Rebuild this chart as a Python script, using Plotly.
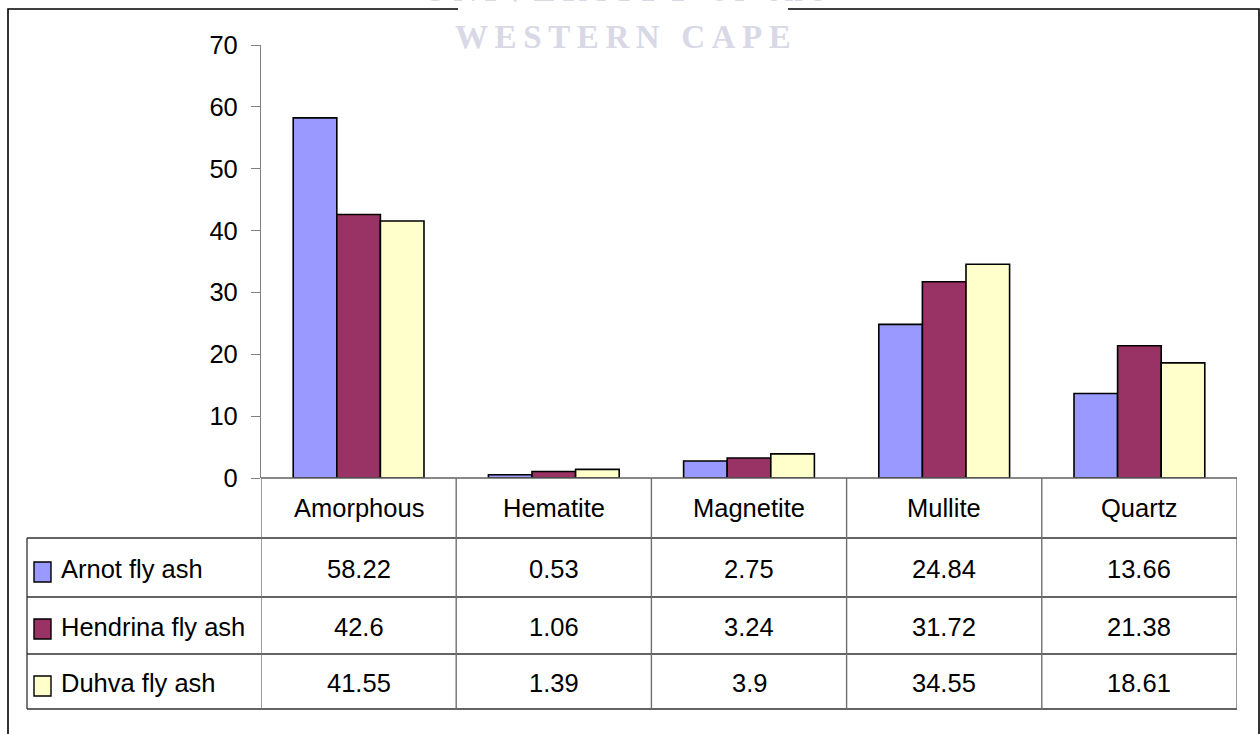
import plotly.graph_objects as go

categories = ["Amorphous", "Hematite", "Magnetite", "Mullite", "Quartz"]
series_names = ["Arnot fly ash", "Hendrina fly ash", "Duhva fly ash"]
arnot = [58.22, 0.53, 2.75, 24.84, 13.66]
hendrina = [42.6, 1.06, 3.24, 31.72, 21.38]
duhva = [41.55, 1.39, 3.9, 34.55, 18.61]
y_ticks = [0, 10, 20, 30, 40, 50, 60, 70]

series_values = [arnot, hendrina, duhva]
colors = ["#9999FF", "#993366", "#FFFFCC"]

W, H = 1260, 734
FONT = "Liberation Sans Narrow, Arial Narrow, Liberation Sans, Arial, sans-serif"
FS = 25.5


def px(x):
    return x / W


def py(y):
    return 1 - y / H


fig = go.Figure()
for name, vals, col in zip(series_names, series_values, colors):
    fig.add_trace(go.Bar(x=categories, y=vals, name=name,
                         marker=dict(color=col, line=dict(color="black", width=1.6)),
                         showlegend=False))

fig.update_layout(
    width=W, height=H, margin=dict(l=0, r=0, t=0, b=0, autoexpand=False),
    paper_bgcolor="white", plot_bgcolor="white",
    barmode="group", bargap=0.33, bargroupgap=0,
    font=dict(family=FONT, size=FS, color="black"),
    xaxis=dict(domain=[px(261), px(1237)], showticklabels=False, ticks="",
               showgrid=False, zeroline=False, showline=False, automargin=False,
               range=[-0.5, len(categories) - 0.5], fixedrange=True),
    yaxis=dict(domain=[py(478), py(45)], range=[0, 70], tickvals=y_ticks,
               ticks="outside", ticklen=9, tickwidth=1.2, tickcolor="#808080",
               showline=True, linecolor="#808080", linewidth=1.2, automargin=False,
               showgrid=False, zeroline=False, ticklabelstandoff=8,
               tickfont=dict(family=FONT, size=FS, color="black"), fixedrange=True),
)

shapes = []
# outer border
shapes.append(dict(type="rect", xref="paper", yref="paper", x0=px(8), x1=px(1259),
                   y0=py(760), y1=py(9), line=dict(color="black", width=1.6),
                   fillcolor="rgba(0,0,0,0)", layer="above"))
# watermark background
shapes.append(dict(type="rect", xref="paper", yref="paper", x0=px(458), x1=px(788),
                   y0=py(50), y1=py(-5), line=dict(width=0), fillcolor="white", layer="above"))

# table horizontal lines
row_lines = [538, 597, 654, 709]
shapes.append(dict(type="line", xref="paper", yref="paper", x0=px(261), x1=px(1237),
                   y0=py(478), y1=py(478), line=dict(color="#606060", width=1.4), layer="above"))
for yy in row_lines:
    shapes.append(dict(type="line", xref="paper", yref="paper", x0=px(27), x1=px(1237),
                       y0=py(yy), y1=py(yy), line=dict(color="#303030", width=1.3), layer="above"))
# table vertical lines
for i in range(len(categories) + 1):
    shapes.append(dict(type="line", xref="x", yref="paper", x0=i - 0.5, x1=i - 0.5,
                       y0=py(478), y1=py(709), line=dict(color="#707070", width=1.4), layer="above"))
shapes.append(dict(type="line", xref="paper", yref="paper", x0=px(27), x1=px(27),
                   y0=py(538), y1=py(709), line=dict(color="#303030", width=1.3), layer="above"))

annotations = []
# category header
for i, c in enumerate(categories):
    annotations.append(dict(x=i, y=py(508), xref="x", yref="paper", text=c, showarrow=False,
                            xanchor="center", yanchor="middle", font=dict(family=FONT, size=FS)))
# data rows
row_centers = [569, 627, 683]
key_tops = [562, 619, 676]
for r, (name, vals, col) in enumerate(zip(series_names, series_values, colors)):
    yc = row_centers[r]
    shapes.append(dict(type="rect", xref="paper", yref="paper", x0=px(34), x1=px(51),
                       y0=py(key_tops[r] + 20), y1=py(key_tops[r]),
                       line=dict(color="black", width=1.4), fillcolor=col, layer="above"))
    annotations.append(dict(x=px(59), y=py(yc), xref="paper", yref="paper", text=name,
                            showarrow=False, xanchor="left", yanchor="middle",
                            font=dict(family=FONT, size=FS)))
    for i, v in enumerate(vals):
        annotations.append(dict(x=i, y=py(yc), xref="x", yref="paper", text=f"{v:g}",
                                showarrow=False, xanchor="center", yanchor="middle",
                                font=dict(family=FONT, size=FS)))

# watermark
wm = "\u2009".join("WESTERN CAPE")
annotations.append(dict(x=px(623), y=py(37), xref="paper", yref="paper", text="<b>" + wm + "</b>",
                        showarrow=False, xanchor="center", yanchor="middle",
                        font=dict(family="Liberation Serif, Times New Roman, serif", size=33, color="#D8D8E6")))
wm2 = "\u2009".join("UNIVERSITY of the")
annotations.append(dict(x=px(623), y=py(-10), xref="paper", yref="paper", text="<b>" + wm2 + "</b>",
                        showarrow=False, xanchor="center", yanchor="middle",
                        font=dict(family="Liberation Serif, Times New Roman, serif", size=33, color="#D8D8E6")))

fig.update_layout(shapes=shapes, annotations=annotations)
fig.write_html("out.html", config={"displayModeBar": False},
               post_script="document.body.style.margin='0';")
